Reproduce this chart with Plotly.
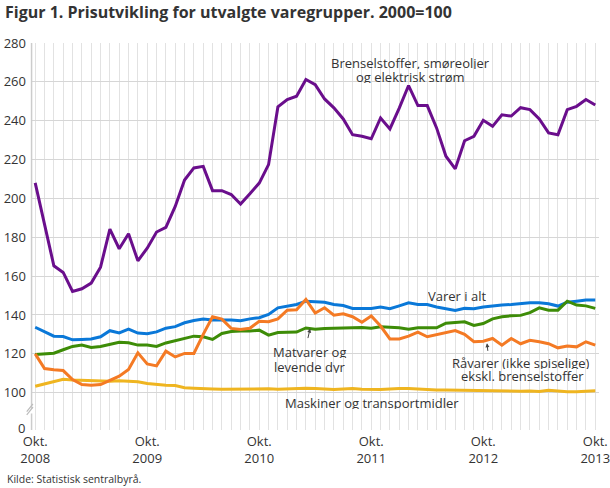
import plotly.graph_objects as go

months = list(range(61))  # Oct 2008 .. Oct 2013, monthly index
tick_idx = [0, 12, 24, 36, 48, 60]
tick_text = ["Okt.<br>2008", "Okt.<br>2009", "Okt.<br>2010", "Okt.<br>2011", "Okt.<br>2012", "Okt.<br>2013"]
y_ticks = [100, 120, 140, 160, 180, 200, 220, 240, 260, 280]

brensel = [208, 186.5, 165.3, 161.9, 152.1, 153.5, 156.4, 164.6, 184.2, 174.1, 181.8, 167.9, 174.4,
           182.7, 185.1, 195.9, 209.5, 215.7, 216.5, 204, 204, 202, 197.1, 202.4, 207.9, 217.4,
           247.1, 250.9, 252.6, 261.2, 258.6, 251.2, 246.6, 240.9, 232.8, 232, 230.7, 241.4, 235.8,
           246.5, 258.1, 247.8, 247.8, 236.3, 221.7, 215.2, 229.7, 232, 240.2, 237.1, 243, 242.4,
           246.7, 245.7, 240.9, 233.7, 232.8, 245.7, 247.4, 250.9, 248.1]
varer_alt = [133.7, 131.3, 129.1, 128.9, 127.2, 127.4, 127.6, 128.8, 131.9, 130.8, 132.7, 130.7, 130.3,
             131.3, 133.2, 134, 136, 137.2, 137.9, 137.4, 137.5, 137.4, 137, 138, 138.6, 140.3,
             143.7, 144.6, 145.4, 147.1, 146.8, 146.6, 145.4, 144.9, 143.4, 143.4, 143.4, 144.1, 143.2,
             144.7, 146.3, 145.4, 145.4, 144.1, 143.2, 142.3, 143.4, 143.2, 144.1, 144.7, 145.1, 145.4,
             145.8, 146.3, 146.3, 145.8, 144.6, 146.6, 147.1, 147.7, 147.7]
matvarer = [119.7, 120, 120.3, 122.1, 123.8, 124.5, 123.3, 123.8, 124.8, 126, 125.7, 124.5, 124.5,
            123.8, 125.6, 126.7, 127.9, 129.1, 128.8, 127.4, 130.5, 131.5, 131.7, 131.7, 132.2, 129.6,
            131, 131, 131.2, 133.3, 132.7, 133.1, 133.2, 133.2, 133.2, 133.6, 133.2, 133.9, 133.7,
            133.4, 132.7, 133.4, 133.4, 133.4, 135.8, 136.2, 136.5, 134.6, 135.6, 138, 139.1, 139.6,
            139.8, 141.2, 143.7, 142.5, 142.5, 147.1, 145.1, 144.7, 143.4]
ravarer = [120, 112.4, 111.8, 111.4, 106.8, 104.2, 103.8, 104.2, 106.4, 108.5, 111.9, 120.5, 114.8,
           113.8, 121.4, 118.4, 120.2, 120.2, 130, 139.1, 137.9, 133.1, 132.5, 133.2, 136.8, 136.5,
           138, 142.5, 142.7, 148, 141, 143.7, 139.9, 140.6, 139.1, 136.3, 139.5, 134.3, 127.7,
           127.7, 129.1, 131.2, 128.8, 130, 130.8, 132, 130, 126.2, 126.5, 127.9, 124.5, 127.9,
           125.2, 127, 126.2, 125.2, 123.1, 124, 123.6, 126.2, 124.5]
maskiner = [103.3, 104.5, 105.6, 106.9, 106.6, 106.4, 106.3, 106.1, 105.9, 106.1, 105.9, 105.6, 104.7,
            104.2, 103.8, 103.7, 102.6, 102.3, 102, 101.9, 101.8, 101.9, 102, 102, 101.9, 102,
            101.8, 102, 102.2, 102.3, 102.2, 101.8, 101.7, 101.9, 102.1, 101.8, 101.6, 101.7, 101.9,
            102.2, 102.1, 101.8, 101.7, 101.4, 101.4, 101.3, 101.2, 101.1, 101.2, 101.0, 101.1, 100.9,
            100.8, 100.9, 100.6, 101.3, 100.8, 100.5, 100.5, 100.6, 101.0]

TXT = "#333333"
FONT = "Open Sans"
Y_BOTTOM = 80.8   # value shown as "0" (broken axis)

fig = go.Figure()
series = [
    ("Maskiner og transportmidler", maskiner, "#efb520"),
    ("Varer i alt", varer_alt, "#0a78d8"),
    ("Matvarer og levende dyr", matvarer, "#3d8c07"),
    ("Råvarer", ravarer, "#f47a24"),
    ("Brenselstoffer", brensel, "#6a0e8c"),
]
for name, vals, col in series:
    fig.add_trace(go.Scatter(x=months, y=vals, mode="lines", name=name,
                             line=dict(color=col, width=3), hoverinfo="skip"))

fig.update_layout(
    width=610, height=488,
    margin=dict(l=31, r=11, t=43, b=58, autoexpand=False),
    paper_bgcolor="white", plot_bgcolor="white",
    showlegend=False,
    font=dict(family=FONT, size=13, color=TXT),
    title=dict(text="<b>Figur 1. Prisutvikling for utvalgte varegrupper. 2000=100</b>",
               x=5 / 610, xanchor="left", xref="container",
               y=1 - 12 / 488, yanchor="middle", yref="container", automargin=False,
               font=dict(family=FONT, size=16, color=TXT)),
)

fig.update_xaxes(range=[-0.45, 60.4], tickmode="array", tickvals=months,
                 ticktext=[tick_text[tick_idx.index(m)] if m in tick_idx else "" for m in months],
                 showgrid=True, gridcolor="#e2e2e2", gridwidth=1, zeroline=False,
                 showline=False, ticks="", ticklabelstandoff=2, automargin=False,
                 ticklabeloverflow="allow",
                 tickfont=dict(family=FONT, size=13, color=TXT))
fig.update_yaxes(range=[Y_BOTTOM, 280], tickmode="array", tickvals=y_ticks,
                 ticktext=[str(v) for v in y_ticks],
                 showgrid=True, gridcolor="#d6d6d6", gridwidth=1, zeroline=False,
                 showline=False, ticks="", ticklabelstandoff=4, automargin=False,
                 tickfont=dict(family=FONT, size=13, color=TXT))

# y axis line with break
fig.add_shape(type="line", xref="paper", yref="y", x0=0.001, x1=0.001, y0=280, y1=91.8,
              line=dict(color="#cccccc", width=1.5))
fig.add_shape(type="line", xref="paper", yref="y", x0=0.001, x1=0.001, y0=89.3, y1=Y_BOTTOM,
              line=dict(color="#cccccc", width=1.5))
for off in (0.0, 1.6):
    fig.add_shape(type="line", xref="paper", yref="y",
                  x0=-0.0075, x1=0.0035, y0=88.6 + off, y1=92.6 + off,
                  line=dict(color="#bbbbbb", width=1.2))

# "0" tick label on broken axis
fig.add_annotation(text="0", xref="paper", yref="y", x=0, y=81.7, xanchor="right",
                   yanchor="middle", xshift=-4, showarrow=False,
                   font=dict(family=FONT, size=13, color=TXT))

labels = [
    ("Brenselstoffer, smøreoljer", 40.2, 269.8),
    ("og elektrisk strøm", 40.2, 262.9),
    ("Varer i alt", 45.2, 150.2),
    ("Matvarer og", 29.4, 121.1),
    ("levende dyr", 29.4, 113.7),
    ("Råvarer (ikke spiselige)", 52.0, 115.6),
    ("ekskl. brenselstoffer", 52.2, 109.1),
    ("Maskiner og transportmidler", 36.05, 95.2),
]
for t, x, y in labels:
    fig.add_annotation(text=t, x=x, y=y, xref="x", yref="y", xanchor="center",
                       yanchor="middle", showarrow=False, height=13,
                       font=dict(family=FONT, size=13, color=TXT))

# pointer arrows
fig.add_annotation(text="", x=29.45, y=133.0, xref="x", yref="y", ax=-2.5, ay=11,
                   showarrow=True, arrowhead=2, arrowsize=0.8, arrowwidth=1, arrowcolor="#444")
fig.add_annotation(text="", x=48.4, y=125.4, xref="x", yref="y", ax=1, ay=9,
                   showarrow=True, arrowhead=2, arrowsize=0.8, arrowwidth=1, arrowcolor="#444")

fig.add_annotation(text="Kilde: Statistisk sentralbyrå.", xref="paper", yref="paper",
                   x=(5 - 31) / 568, y=(430 - 479) / 387, xanchor="left", yanchor="middle",
                   showarrow=False, font=dict(family=FONT, size=10.5, color=TXT))

fig.write_html("out.html", config={"displayModeBar": False},
               post_script="document.body.style.margin='0';document.body.style.overflow='hidden';")
